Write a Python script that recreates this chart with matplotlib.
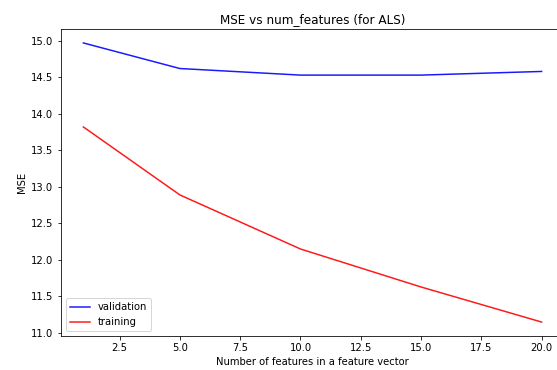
#!/usr/bin/env python3
"""MSE vs number of features for ALS."""

import matplotlib

matplotlib.use("Agg")
import matplotlib.pyplot as plt

NUM_FEATURES = [1, 5, 10, 15, 20]
VALIDATION_MSE = [14.97, 14.62, 14.53, 14.53, 14.58]
TRAINING_MSE = [13.82, 12.89, 12.15, 11.63, 11.15]

plt.rcParams.update({"font.size": 10})

fig = plt.figure(figsize=(557 / 72, 370 / 72), dpi=72)
# the original was cropped on the right, so the axes run past the figure edge
ax = fig.add_axes([60.5 / 557, 34 / 370, 504 / 557, 307 / 370])

ax.plot(NUM_FEATURES, VALIDATION_MSE, color="blue", alpha=0.9, label="validation")
ax.plot(NUM_FEATURES, TRAINING_MSE, color="red", alpha=0.9, label="training")

ax.set_title("MSE vs num_features (for ALS)")
ax.set_xlabel("Number of features in a feature vector")
ax.set_ylabel("MSE")
ax.legend(loc="lower left")

fig.savefig("out.png", dpi=72)
plt.close(fig)
